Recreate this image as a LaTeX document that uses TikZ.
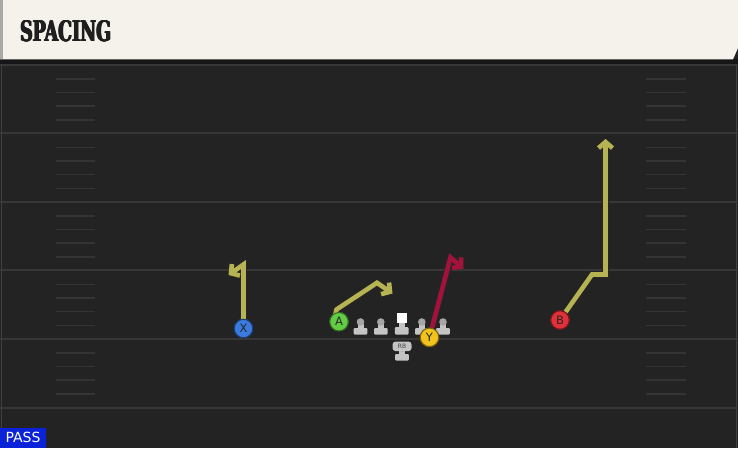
\documentclass[tikz,border=0pt]{standalone}
\usepackage{fontspec}
\usepackage{graphicx}
\usetikzlibrary{arrows.meta}
\newfontfamily\titlefont{DejaVu Serif}
\newfontfamily\labelfont{DejaVu Sans}
\definecolor{field}{HTML}{232323}
\definecolor{band}{HTML}{161616}
\definecolor{cream}{HTML}{F5F2EB}
\definecolor{edgegrey}{HTML}{A9A9A6}
\definecolor{yardc}{HTML}{373737}
\definecolor{hashc}{HTML}{343434}
\definecolor{olive}{HTML}{B6B452}
\definecolor{crimson}{HTML}{A3123A}
\definecolor{xblue}{HTML}{3B7BE0}
\definecolor{agreen}{HTML}{62CC44}
\definecolor{yyellow}{HTML}{F2C31C}
\definecolor{bred}{HTML}{E0303A}
\definecolor{passblue}{HTML}{0A22D8}
\definecolor{iconc}{HTML}{C4C4C4}
\definecolor{iconhead}{HTML}{A6A6A6}
\newcommand{\heavytitle}{\titlefont\bfseries SPACING}
\tikzset{
  yard/.style={draw=yardc, line width=2pt},
  hash/.style={draw=hashc, line width=1.5pt},
  player/.style={circle, fill=#1, draw=#1!50!black, line width=1pt, minimum size=18.5pt, inner sep=0pt, text=black!85, font=\labelfont\fontsize{11.5}{11.5}\selectfont},
  route/.style={draw=#1, line width=4.6pt, line join=miter, -{Straight Barb[length=6pt,width=14pt]},
    preaction={draw=black!85, line width=6.6pt, line join=miter, -{Straight Barb[length=6pt,width=14pt]}}},
  lineman/.pic={
    \fill[iconc] (-3,-6) rectangle (3,-1);
    \fill[iconhead] (0,-8) circle (3.8pt);
    \fill[iconc, rounded corners=1pt] (-6.8,-2) rectangle (6.8,4.5);
  },
  centerman/.pic={
    \fill[iconc] (-3,-7) rectangle (3,-1);
    \fill[white] (-5.2,-17) rectangle (5.2,-7);
    \fill[iconc, rounded corners=1pt] (-6.8,-3) rectangle (6.8,4.5);
  }
}
\begin{document}
\begin{tikzpicture}[x=1pt,y=-1pt]
\useasboundingbox (0,0) rectangle (738,448);
% field
\fill[field] (0,0) rectangle (738,448);
\fill[band] (0,59) rectangle (738,64);
% header
\fill[cream] (0,0) -- (738,0) -- (738,48) -- (733,59.3) -- (0,59.3) -- cycle;
\fill[edgegrey] (0,0) rectangle (3.3,59.3);
\foreach \dx in {-0.6,-0.2,0.2,0.6}
  \node[anchor=west, inner sep=0pt, text=black!88] at (20+\dx,31.5)
    {\resizebox{91pt}{21pt}{\heavytitle}};
\node[anchor=west, inner sep=0pt, text=black!88] (title) at (20,31.5)
  {\resizebox{91pt}{21pt}{\heavytitle}};
% side edges
\draw[draw=black!75!white, line width=1pt] (1.5,64) -- (1.5,448);
\draw[draw=black!75!white, line width=1pt] (736.5,64) -- (736.5,448);
% yard lines
\foreach \yy in {64.8,133.4,202,270.4,339,408} \draw[yard] (0,\yy) -- (738,\yy);
% hash marks
\foreach \yy in {64.8,133.4,202,270.4,339} {
  \foreach \oo in {14,27.7,41,55} {
    \pgfmathsetmacro{\hy}{\yy+\oo}
    \draw[hash] (56,\hy) -- (95,\hy);
    \draw[hash] (646,\hy) -- (686,\hy);
  }
}
% offensive line and back
\pic at (360.5,330) {lineman};
\pic at (380.8,330) {lineman};
\pic at (401.7,330) {centerman};
\pic at (421.8,330) {lineman};
\pic at (443,330) {lineman};
\pic at (402,356) {lineman};
\node[fill=iconc, rounded corners=3pt, minimum width=19pt, minimum height=9.5pt, inner sep=0pt,
  text=black!75, font=\labelfont\fontsize{6}{6}\selectfont] (rb) at (402,346.3) {RB};
% players
\node[player=xblue] (X) at (243.5,328.5) {X};
\node[player=agreen] (A) at (339,321.7) {A};
\node[player=yyellow] (Y) at (429.5,337.3) {Y};
\node[player=bred] (B) at (560,320) {B};
% route points
\coordinate (x1) at (243.5,264.5);
\coordinate (x2) at (228.5,275);
\coordinate (a1) at (336.5,309.5);
\coordinate (a2) at (377,282.8);
\coordinate (a3) at (392.5,293.5);
\coordinate (y1) at (450.5,257.5);
\coordinate (y2) at (463.5,268.5);
\coordinate (b1) at (592,274.5);
\coordinate (b2) at (605.5,274.5);
\coordinate (b3) at (605.5,139);
% routes
\draw[route=olive] (X) -- (x1) -- (x2);
\draw[route=olive] (A.north west) ++(3,1) -- (a1) -- (a2) -- (a3);
\draw[route=crimson] (Y) -- (y1) -- (y2);
\draw[route=olive] (B) -- (b1) -- (b2) -- (b3);
% redraw players over route starts
\node[player=xblue] at (X) {X};
\node[player=agreen] at (A) {A};
\node[player=yyellow] at (Y) {Y};
\node[player=bred] at (B) {B};
% play type tag
\node[fill=passblue, text=white, inner sep=0pt, minimum width=45.7pt, minimum height=20.3pt,
  anchor=south west, font=\labelfont\fontsize{14}{14}\selectfont] (pass) at (0,448) {PASS};
\end{tikzpicture}
\end{document}
